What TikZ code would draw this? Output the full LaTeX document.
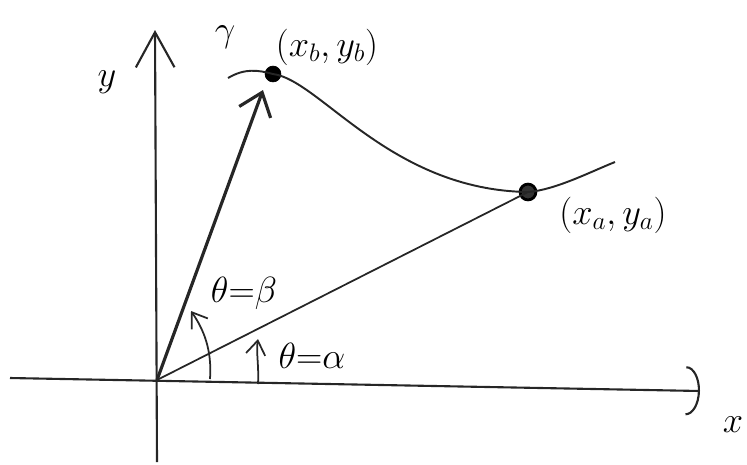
\documentclass[tikz,border=0pt]{standalone}
\usetikzlibrary{arrows.meta, calc}
\tikzset{
  axis/.style={line width=1.2pt, draw=black!85},
  ray/.style={line width=1pt, draw=black!85},
  bigray/.style={line width=1.8pt, draw=black!85},
  curve/.style={line width=1.1pt, draw=black!85},
  anglemark/.style={line width=1pt, draw=black!85,
    -{Straight Barb[length=8pt, width=11pt]}},
  fullpt/.style={circle, draw=black, fill=black, inner sep=0pt, minimum size=9pt},
  ringpt/.style={circle, draw=black, fill=black!80, line width=1.6pt, inner sep=0pt, minimum size=9pt},
  lbl/.style={font=\huge},
}

\begin{document}
\begin{tikzpicture}[x=0.02cm, y=-0.02cm]
\useasboundingbox (0,0) rectangle (747,464);

% Axes
\coordinate (O) at (157,380);
\coordinate (xstart) at (10,378);
\coordinate (xend) at (700,391);
\coordinate (ystart) at (157,462);
\coordinate (yend) at (155,30);

\draw[axis, -{Arc Barb[length=8pt, width=28pt]}] (xstart) -- (xend);
\draw[axis, -{Straight Barb[length=20pt, width=22pt]}] (ystart) -- (yend);

\node (ylab) [lbl] at (107,82) {$y$};
\node (xlab) [lbl] at (733,425) {$x$};

% Points on the curve
\node (b) [fullpt] at (273,74) {};
\node (a) [ringpt] at (528,192) {};

\node (blab) [lbl] at (327,47) {$(x_b,y_b)$};
\node (alab) [lbl] at (613,215) {$(x_a,y_a)$};

% Curve gamma
\coordinate (cs) at (228,78);
\coordinate (ce) at (615,162);
\draw[curve] (cs) .. controls (245,68) and (258,70) .. (b.center)
  .. controls (320,80) and (390,190) .. (a.center)
  .. controls (555,190) and (590,172) .. (ce);
\node (glab) [lbl] at (225,37) {$\gamma$};

% Rays from the origin
\coordinate (btip) at (263,90);
\draw[bigray, -{Straight Barb[length=12pt, width=19pt]}] (O) -- (btip);
\draw[ray] (O) -- (a.center);

% Angle marks
\coordinate (bs) at (210,379);
\coordinate (be) at (191,311);
\draw[anglemark] (bs) .. controls (212,350) and (204,330) .. (be);
\node (blbl) [lbl] at (244,293) {$\theta{=}\beta$};

\coordinate (as) at (258,384);
\coordinate (ae) at (258,339);
\draw[anglemark] (as) .. controls (259,365) and (256,352) .. (ae);
\node (albl) [lbl] at (312,356) {$\theta{=}\alpha$};

\end{tikzpicture}
\end{document}
